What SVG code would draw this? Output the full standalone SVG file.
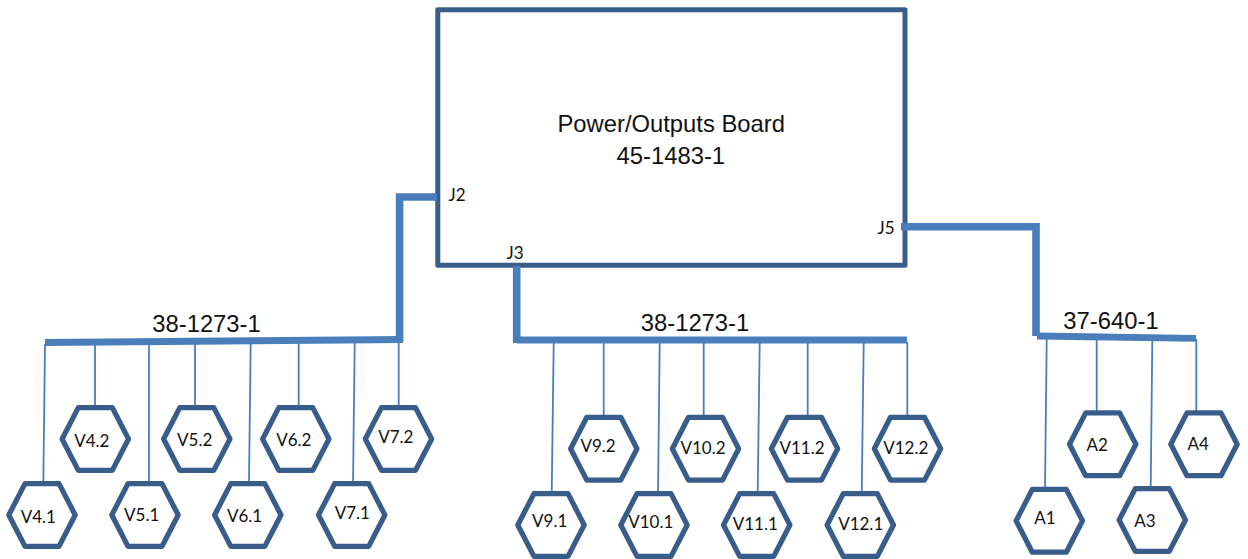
<svg xmlns="http://www.w3.org/2000/svg" width="1248" height="559" viewBox="0 0 1248 559">
<style>
.bg{fill:#fff}
.board{fill:#fff;stroke:#385d8a;stroke-width:5;stroke-linejoin:round}
.hex{fill:#fff;stroke:#385d8a;stroke-width:5.2;stroke-linejoin:round}
.thick{fill:none;stroke:#4a7ebb;stroke-width:7.6}
.bus{fill:none;stroke:#4a7ebb;stroke-width:6.8}
.thin{fill:none;stroke:#4a7ebb;stroke-width:1.8}
.l{font-family:"Lato","Carlito","Noto Sans",sans-serif;font-size:17px;fill:#111;text-anchor:middle}
.t{font-family:"Liberation Sans",Arial,sans-serif;font-size:23.8px;fill:#111;text-anchor:middle}
</style>
<defs><polygon id="hx" points="-33.2,0 -17,-31.4 17,-31.4 33.2,0 17,31.4 -17,31.4"/></defs>
<rect class="bg" width="1248" height="559"/>
<g id="board"><rect class="board" x="437.8" y="9.8" width="467.2" height="255.5"/>
<text class="t" x="671.2" y="132">Power/Outputs Board</text><text class="t" x="670.8" y="163.5">45-1483-1</text>
<text class="l" x="457" y="200.7">J2</text><text class="l" x="515" y="259">J3</text><text class="l" x="886" y="233.7">J5</text></g>
<g id="connectors">
<path class="thick" d="M437 197H399.6V342M516.7 266V343M901 226.7H1036V336"/>
<path class="bus" d="M45 342.5L403 339.5M517 340H907M1037 336L1196 338.3"/>
<path class="thin" d="M45 344L43.3 484M95 345V406M149 345V485M195 344V407M250.7 343L249 481M298.7 343V405M354.7 342L353 485M398.7 342V405M553.7 343L551.7 494M603.7 343V416M659.7 343L658 494M703.7 343V418M759.7 343L757.7 491M807.7 343V415M863.7 343L861.7 494M907.3 342V415M1046.7 339L1045 490M1096.7 339V412M1152.3 340L1150.7 490M1196.3 339V412"/>
</g>
<g id="cables"><text class="t" x="206.5" y="331.7">38-1273-1</text><text class="t" x="695" y="330.5">38-1273-1</text><text class="t" x="1111" y="329.3">37-640-1</text></g>
<g id="V4.1"><use class="hex" href="#hx" x="42" y="515"/><text class="l" x="38.3" y="522.7">V4.1</text></g>
<g id="V4.2"><use class="hex" href="#hx" x="95.3" y="439"/><text class="l" x="91.8" y="446.7">V4.2</text></g>
<g id="V5.1"><use class="hex" href="#hx" x="145" y="515"/><text class="l" x="141.7" y="521">V5.1</text></g>
<g id="V5.2"><use class="hex" href="#hx" x="196.8" y="439"/><text class="l" x="194.7" y="446">V5.2</text></g>
<g id="V6.1"><use class="hex" href="#hx" x="247.8" y="515"/><text class="l" x="244.5" y="522.3">V6.1</text></g>
<g id="V6.2"><use class="hex" href="#hx" x="295.8" y="439"/><text class="l" x="293.8" y="446.3">V6.2</text></g>
<g id="V7.1"><use class="hex" href="#hx" x="351.7" y="515"/><text class="l" x="352.3" y="519.3">V7.1</text></g>
<g id="V7.2"><use class="hex" href="#hx" x="398.5" y="439"/><text class="l" x="395.8" y="443">V7.2</text></g>
<g id="V9.1"><use class="hex" href="#hx" x="551" y="525"/><text class="l" x="549.7" y="527.3">V9.1</text></g>
<g id="V9.2"><use class="hex" href="#hx" x="603.8" y="448.7"/><text class="l" x="598" y="452">V9.2</text></g>
<g id="V10.1"><use class="hex" href="#hx" x="654" y="525"/><text class="l" x="650.8" y="528.3">V10.1</text></g>
<g id="V10.2"><use class="hex" href="#hx" x="705.5" y="448.7"/><text class="l" x="703" y="454.3">V10.2</text></g>
<g id="V11.1"><use class="hex" href="#hx" x="756.7" y="525"/><text class="l" x="755.3" y="530">V11.1</text></g>
<g id="V11.2"><use class="hex" href="#hx" x="804.5" y="448.7"/><text class="l" x="802" y="454.3">V11.2</text></g>
<g id="V12.1"><use class="hex" href="#hx" x="860.3" y="525"/><text class="l" x="860.7" y="530">V12.1</text></g>
<g id="V12.2"><use class="hex" href="#hx" x="907.5" y="448.7"/><text class="l" x="905.8" y="454.3">V12.2</text></g>
<g id="A1"><use class="hex" href="#hx" x="1049.3" y="520.8"/><text class="l" x="1045" y="524">A1</text></g>
<g id="A2"><use class="hex" href="#hx" x="1102.7" y="444.3"/><text class="l" x="1097.3" y="451">A2</text></g>
<g id="A3"><use class="hex" href="#hx" x="1152.3" y="520"/><text class="l" x="1145" y="527">A3</text></g>
<g id="A4"><use class="hex" href="#hx" x="1204" y="444.3"/><text class="l" x="1198.3" y="450">A4</text></g>
</svg>
